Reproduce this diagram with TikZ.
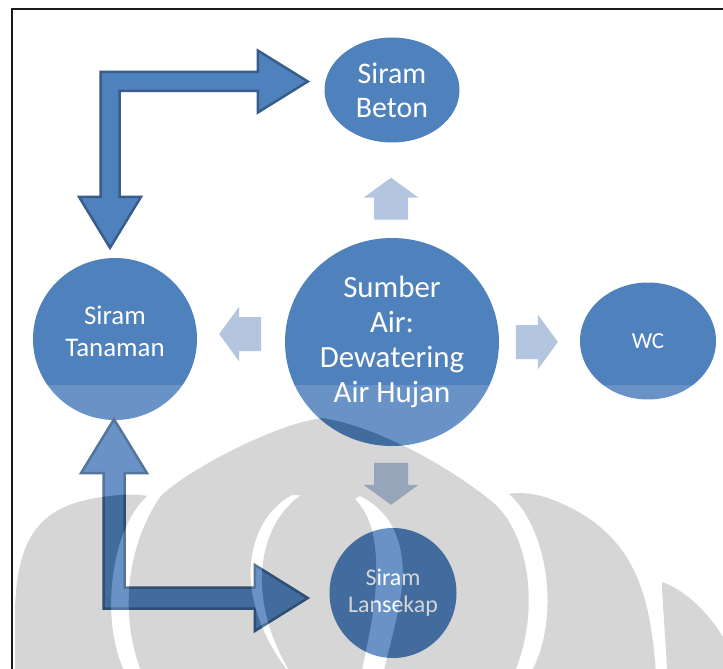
\documentclass[tikz,border=0pt]{standalone}
\usepackage{fontspec}
\setmainfont{Carlito}
\usetikzlibrary{shapes.geometric,calc}
\definecolor{accent}{RGB}{79,129,189}
\definecolor{accentdark}{RGB}{56,93,138}
\definecolor{pale}{RGB}{180,197,224}
\definecolor{markgray}{RGB}{214,214,214}
\definecolor{framecol}{RGB}{25,25,25}
\begin{document}
\begin{tikzpicture}[x=1bp,y=-1bp,
  bubble/.style={ellipse, fill=accent, draw=none, inner sep=0pt, text=white, align=center},
  bent/.style={fill=accent, draw=accentdark, line width=2.5bp, line join=miter},
  hint/.style={fill=pale, draw=none},
  pics/hintarrow/.style={code={
    \fill[hint] (0,0) -- (-20,27.5) -- (-20,17) -- (-42,17) -- (-42,-17) -- (-20,-17) -- (-20,-27.5) -- cycle;}},
  % outline of the grey emblem in the lower half (holes are the white gaps)
  emblem/.style={insert path={
    (150,690) .. controls (122,640) and (118,560) .. (160,497)
              .. controls (180,475) and (270,425) .. (322,418)
              .. controls (370,425) and (440,460) .. (490,500)
              .. controls (530,530) and (545,620) .. (506,690) -- cycle
    (292,495) .. controls (245,520) and (228,600) .. (295,680)
              .. controls (243,600) and (258,525) .. (301,495) -- cycle
    (360,496) .. controls (400,515) and (408,560) .. (400,600)
              .. controls (395,630) and (388,650) .. (382,680)
              -- (360,680) .. controls (368,640) and (378,600) .. (376,560)
              .. controls (375,535) and (370,515) .. (355,499) -- cycle
    (15,690) -- (15,610) .. controls (17,530) and (45,503) .. (110,496)
             .. controls (125,494) and (138,494) .. (147,496)
             .. controls (105,535) and (98,645) .. (136,690) -- cycle
    (509,494) .. controls (555,535) and (562,645) .. (518,690)
              -- (657,690) .. controls (652,600) and (640,530) .. (545,497)
              .. controls (530,493) and (518,492) .. (509,494) -- cycle
    (668,690) .. controls (666,640) and (662,600) .. (662,582)
              .. controls (685,590) and (715,615) .. (735,660) -- (735,690) -- cycle
  }},
  ]
\useasboundingbox (0,0) rectangle (723,669);
\fill[white] (0,0) rectangle (723,669);

% circles
\node[bubble, minimum width=214bp, minimum height=208bp, font=\fontsize{31}{35}\selectfont]
  (src) at (392,342) {Sumber\\Air:\\Dewatering\\Air Hujan};
\node[bubble, minimum width=135bp, minimum height=105bp, font=\fontsize{30}{34}\selectfont]
  (beton) at (392,90) {Siram\\Beton};
\node[bubble, minimum width=164bp, minimum height=162bp,
  label={[text=white, align=center, font=\fontsize{27}{32}\selectfont, yshift=8bp]center:Siram\\Tanaman}]
  (tanaman) at (115,339) {};
\node[bubble, minimum width=136bp, minimum height=117bp, font=\fontsize{23}{27}\selectfont]
  (wc) at (648,341) {WC};
\node[bubble, minimum width=127bp, minimum height=130bp, font=\fontsize{24}{27}\selectfont]
  (lansekap) at (393,593) {Siram\\Lansekap};

% short arrows from the source
\pic[rotate=90]  at ($(beton.south)+(-1,35)$) {hintarrow};
\pic[rotate=180] at ($(tanaman.east)+(22,-5)$) {hintarrow};
\pic             at ($(wc.west)+(-22,1)$) {hintarrow};
\pic[rotate=-90] at ($(lansekap.north)+(-2,-23)$) {hintarrow};

% bent double arrow: Siram Tanaman <-> Siram Beton
\coordinate (ta) at ($(tanaman.north)+(-5,-10)$);
\coordinate (tb) at ($(beton.west)+(-16.5,-8.5)$);
\coordinate (tc) at (ta |- tb);
\draw[bent] (ta) -- ($(ta)+(31,-51)$) -- ($(ta)+(9.5,-51)$) -- ($(tc)+(9.5,9.5)$)
  -- ($(tb)+(-50,9.5)$) -- ($(tb)+(-50,31)$) -- (tb) -- ($(tb)+(-50,-31)$)
  -- ($(tb)+(-50,-9.5)$) -- ($(tc)+(-9.5,-9.5)$) -- ($(ta)+(-9.5,-51)$)
  -- ($(ta)+(-31,-51)$) -- cycle;

% bent double arrow: Siram Tanaman <-> Siram Lansekap
\coordinate (ua) at ($(tanaman.south)+(-1,-1)$);
\coordinate (ub) at ($(lansekap.west)+(-21.5,5)$);
\coordinate (uc) at (ua |- ub);
\draw[bent] (ua) -- ($(ua)+(33,54)$) -- ($(ua)+(10.5,54)$) -- ($(uc)+(10.5,-10.5)$)
  -- ($(ub)+(-53,-10.5)$) -- ($(ub)+(-53,-33)$) -- (ub) -- ($(ub)+(-53,33)$)
  -- ($(ub)+(-53,10.5)$) -- ($(uc)+(-10.5,10.5)$) -- ($(ua)+(-10.5,54)$)
  -- ($(ua)+(-33,54)$) -- cycle;

% translucent emblem over the lower half
\begin{scope}
  \clip (0,0) rectangle (723,669);
  \fill[white, opacity=0.15, even odd rule] (-10,385) rectangle (760,800) [emblem];
  \fill[markgray, blend mode=multiply, even odd rule] [emblem];
\end{scope}

% frame
\draw[framecol, line width=2.5bp] (11.8,669) -- (11.8,9.2) -- (723,9.2);
\end{tikzpicture}
\end{document}
